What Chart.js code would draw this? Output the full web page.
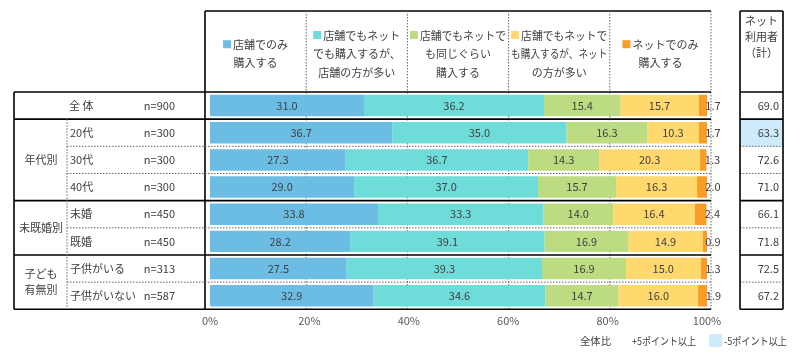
<!DOCTYPE html>
<html>
<head>
<meta charset="utf-8">
<script src="https://cdn.jsdelivr.net/npm/chart.js@4"></script>
<style>
	html, body { margin: 0; padding: 0; background: #fff; }
</style>
</head>
<body>
<canvas id="canvas01" width="800" height="353"></canvas>
<script>

// 行ラベル
const rowLabels = ['全 体', '20代', '30代', '40代', '未婚', '既婚', '子供がいる', '子供がいない'];
const nArray = [900, 300, 300, 300, 450, 450, 313, 587];

// グループ (年代別 / 未既婚別 / 子ども有無別)
const groupNames = [['年代別'], ['未既婚別'], ['子ども', '有無別']];
const groupRows = [[1, 3], [4, 5], [6, 7]];

// 凡例 (見出し)
const seriesNames = [
	['店舗でのみ', '購入する'],
	['店舗でもネット', 'でも購入するが、', '店舗の方が多い'],
	['店舗でもネットで', 'も同じぐらい', '購入する'],
	['店舗でもネットで', 'も購入するが、ネット', 'の方が多い'],
	['ネットでのみ', '購入する']
];
const seriesColors = ['#6BBDE3', '#6EDDDA', '#BDDC82', '#FFD96E', '#F99D26'];

// 値 (%)
const storeOnly   = [31.0, 36.7, 27.3, 29.0, 33.8, 28.2, 27.5, 32.9];
const storeMore   = [36.2, 35.0, 36.7, 37.0, 33.3, 39.1, 39.3, 34.6];
const sameLevel   = [15.4, 16.3, 14.3, 15.7, 14.0, 16.9, 16.9, 14.7];
const netMore     = [15.7, 10.3, 20.3, 16.3, 16.4, 14.9, 15.0, 16.0];
const netOnly     = [1.7, 1.7, 1.3, 2.0, 2.4, 0.9, 1.3, 1.9];
const netTotal    = [69.0, 63.3, 72.6, 71.0, 66.1, 71.8, 72.5, 67.2];

const tickValues = [0, 20, 40, 60, 80, 100];

const FONT = '"Noto Sans CJK JP", "Noto Sans", sans-serif';
const TXT = '#404040';

function hline(ctx, x1, x2, yy, dotted) {
	ctx.save();
	ctx.beginPath();
	if (dotted) {
		ctx.strokeStyle = '#666';
		ctx.lineWidth = 1;
		ctx.setLineDash([1.5, 1.5]);
	} else {
		ctx.strokeStyle = '#000';
		ctx.lineWidth = 1.6;
	}
	ctx.moveTo(x1, yy);
	ctx.lineTo(x2, yy);
	ctx.stroke();
	ctx.restore();
}

function vline(ctx, xx, y1, y2, dotted) {
	ctx.save();
	ctx.beginPath();
	if (dotted) {
		ctx.strokeStyle = '#666';
		ctx.lineWidth = 1;
		ctx.setLineDash([1.5, 1.5]);
	} else {
		ctx.strokeStyle = '#000';
		ctx.lineWidth = 1.6;
	}
	ctx.moveTo(xx, y1);
	ctx.lineTo(xx, y2);
	ctx.stroke();
	ctx.restore();
}

const tableFrame = {
	id: 'tableFrame',
	beforeDatasetsDraw(chart, args, options) {
		const { ctx, chartArea: { left, right, top, bottom }, scales: { x } } = chart;
		const nRows = rowLabels.length;
		const rowH = (bottom - top) / nRows;
		const rowY = i => top + rowH * i;

		const x0 = x.getPixelForValue(0) - 5;
		const x1 = x.getPixelForValue(100) + 4;
		const colX = v => x0 + (x1 - x0) * v / 100;

		const tabL = 14, grpX = 67, headTop = 11;
		const netL = 740, netR = 783;

		// 強調セル
		for (let i = 1; i < nRows; i++) {
			const diff = netTotal[i] - netTotal[0];
			if (diff <= -5 || diff >= 5) {
				ctx.fillStyle = diff <= -5 ? '#CDEBFA' : '#F9D2DE';
				ctx.fillRect(netL, rowY(i), netR - netL, rowH);
			}
		}

		// 見出し枠
		hline(ctx, x0, x1, headTop, false);
		vline(ctx, x0, headTop, bottom, false);
		vline(ctx, x1, headTop, bottom, true);
		tickValues.slice(1, -1).forEach(v => vline(ctx, colX(v), headTop, bottom, true));

		// 行の線
		const solidRows = [0, 1].concat(groupRows.map(g => g[0])).concat([nRows]);
		for (let i = 0; i <= nRows; i++) {
			const solid = solidRows.indexOf(i) >= 0;
			hline(ctx, solid ? tabL : grpX, x1, rowY(i), !solid);
			hline(ctx, netL, netR, rowY(i), !solid);
		}
		vline(ctx, tabL, top, bottom, false);
		vline(ctx, grpX, rowY(1), bottom, true);

		// ネット利用者列
		hline(ctx, netL, netR, headTop, false);
		vline(ctx, netL, headTop, bottom, false);
		vline(ctx, netR, headTop, bottom, false);
	},
	afterDatasetsDraw(chart, args, options) {
		const { ctx, chartArea: { left, right, top, bottom }, scales: { x } } = chart;
		const nRows = rowLabels.length;
		const rowH = (bottom - top) / nRows;
		const rowMid = i => top + rowH * (i + 0.5);

		const x0 = x.getPixelForValue(0) - 5;
		const x1 = x.getPixelForValue(100) + 4;
		const colX = v => x0 + (x1 - x0) * v / 100;

		ctx.save();
		ctx.font = '11px ' + FONT;
		ctx.fillStyle = TXT;
		ctx.textBaseline = 'middle';

		// バーの値
		chart.data.datasets.forEach((ds, d) => {
			const meta = chart.getDatasetMeta(d);
			meta.data.forEach((el, i) => {
				const p = el.getProps(['x', 'y', 'base'], true);
				const txt = ds.data[i].toFixed(1);
				ctx.textAlign = 'center';
				ctx.fillStyle = TXT;
				if (d === chart.data.datasets.length - 1) {
					ctx.fillText(txt, p.x + 6, p.y);
				} else {
					ctx.fillText(txt, (p.x + p.base) / 2, p.y);
				}
			});
		});

		// 左の表
		rowLabels.forEach((lab, i) => {
			ctx.textAlign = 'left';
			ctx.fillText(lab, i === 0 ? 69 : 70, rowMid(i));
			ctx.textAlign = 'right';
			ctx.fillText('n=' + nArray[i], 175, rowMid(i));
		});
		ctx.textAlign = 'center';
		groupNames.forEach((lines, g) => {
			const yc = (rowMid(groupRows[g][0]) + rowMid(groupRows[g][1])) / 2;
			lines.forEach((ln, k) => {
				ctx.fillText(ln, 41, yc + (k - (lines.length - 1) / 2) * 16);
			});
		});

		// 見出しの凡例
		seriesNames.forEach((lines, s) => {
			const cL = colX(tickValues[s]), cR = colX(tickValues[s + 1]);
			const cx = (cL + cR) / 2;
			const maxW = cR - cL - 5;
			lines.forEach((ln, k) => {
				const yy = 54 + (k - (lines.length - 1) / 2) * 18.5;
				if (k === 0) {
					const tw = Math.min(ctx.measureText(ln).width, maxW - 10);
					const sx = cx - (tw + 10) / 2;
					ctx.fillStyle = seriesColors[s];
					ctx.fillRect(sx, yy - 4.5, 8, 8);
					ctx.fillStyle = TXT;
					ctx.textAlign = 'left';
					ctx.fillText(ln, sx + 10, yy, maxW - 10);
				} else {
					ctx.fillStyle = TXT;
					ctx.textAlign = 'center';
					ctx.fillText(ln, cx, yy, maxW);
				}
			});
		});

		// ネット利用者(計)
		ctx.textAlign = 'center';
		['ネット', '利用者', '（計）'].forEach((ln, k) => ctx.fillText(ln, 761.5, 21 + k * 16));
		ctx.textAlign = 'right';
		netTotal.forEach((v, i) => ctx.fillText(v.toFixed(1), 779, rowMid(i)));

		// 下の凡例
		ctx.font = '10.5px ' + FONT;
		ctx.textAlign = 'left';
		ctx.fillText('全体比', 580, 341, 31);
		ctx.fillText('+5ポイント以上', 632, 341, 64);
		ctx.fillStyle = '#CDEBFA';
		ctx.fillRect(709, 334, 13, 13);
		ctx.fillStyle = TXT;
		ctx.fillText('-5ポイント以上', 724, 341, 63);

		ctx.restore();
	}
};

function barSet(label, data, color) {
	return {
		label: label,
		data: data,
		backgroundColor: color,
		borderWidth: 0,
		barPercentage: 0.79,
		categoryPercentage: 1.0
	};
}

const chartData = {
	labels: rowLabels,
	datasets: [
		barSet(seriesNames[0].join(''), storeOnly, seriesColors[0]),
		barSet(seriesNames[1].join(''), storeMore, seriesColors[1]),
		barSet(seriesNames[2].join(''), sameLevel, seriesColors[2]),
		barSet(seriesNames[3].join(''), netMore, seriesColors[3]),
		barSet(seriesNames[4].join(''), netOnly, seriesColors[4])
	]
};

const config01 = {
	type: 'bar',
	data: chartData,
	options: {
		indexAxis: 'y',
		responsive: false,
		animation: false,
		devicePixelRatio: 1,
		layout: {
			padding: { left: 210, right: 93, top: 92, bottom: 20.5 }
		},
		plugins: {
			legend: { display: false },
			tooltip: { enabled: false },
			title: { display: false }
		},
		scales: {
			x: {
				stacked: true,
				min: 0,
				max: 100,
				afterBuildTicks: axis => { axis.ticks = tickValues.map(v => ({ value: v })); },
				ticks: {
					callback: v => v + '%',
					color: '#595959',
					font: { family: FONT, size: 11 },
					padding: 5,
					maxRotation: 0
				},
				grid: { display: false, drawTicks: false },
				border: { display: false }
			},
			y: {
				stacked: true,
				display: false
			}
		}
	},
	plugins: [tableFrame]
};

const ctx01 = document.getElementById('canvas01').getContext('2d');
const graf01 = new Chart(ctx01, config01);

</script>
</body>
</html>
